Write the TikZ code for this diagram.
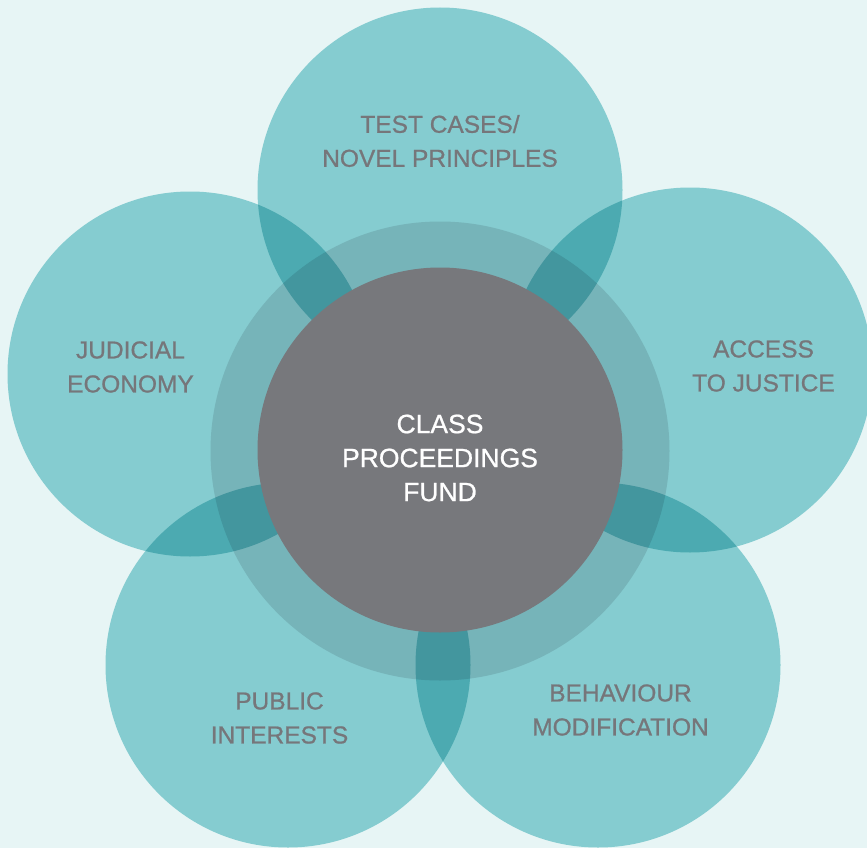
\documentclass[tikz,border=0pt]{standalone}
\usepackage{fontspec}
\setmainfont{Liberation Sans}
\newfontfamily\labelfont[FakeBold=0.8]{Liberation Sans}
\definecolor{bgcol}{RGB}{231,245,245}
\definecolor{petalcol}{RGB}{147,213,217}
\definecolor{ringcol}{RGB}{228,225,228}
\definecolor{corecol}{RGB}{119,120,124}
\definecolor{labelcol}{RGB}{118,118,122}
\begin{document}
\begin{tikzpicture}[x=1pt,y=-1pt,
  petal/.style={circle,inner sep=0pt,minimum size=365pt,fill=petalcol,draw=none,blend mode=multiply},
  halo/.style={circle,inner sep=0pt,minimum size=459pt,fill=ringcol,draw=none,blend mode=multiply},
  core/.style={circle,inner sep=0pt,minimum size=365pt,fill=corecol,draw=none},
  petallabel/.style={align=center,text=labelcol,font=\labelfont\fontsize{24.5}{34}\selectfont},
  corelabel/.style={align=center,text=white,font=\labelfont\fontsize{26.5}{34}\selectfont}]
  \useasboundingbox (0,0) rectangle (867,848);
  \clip (0,0) rectangle (867,848);
  \fill[bgcol] (0,0) rectangle (867,848);
  % five overlapping petals around the centre
  \node[petal] (ptop)    at (440,190) {};
  \node[petal] (pleft)   at (190,374) {};
  \node[petal] (pright)  at (690,370) {};
  \node[petal] (pbleft)  at (288,665) {};
  \node[petal] (pbright) at (598,665) {};
  % translucent ring and solid core
  \node[halo] (ring) at (440,451) {};
  \node[core] (core) at (440,450) {};
  % labels
  \node[petallabel] (ltop)    at (440,141) {TEST CASES/\\NOVEL PRINCIPLES};
  \node[petallabel] (lleft)   at (130.5,367) {JUDICIAL\\ECONOMY};
  \node[petallabel] (lright)  at (763.5,366) {ACCESS\\TO JUSTICE};
  \node[petallabel] (lbleft)  at (279.5,718) {PUBLIC\\INTERESTS};
  \node[petallabel] (lbright) at (620.5,710) {BEHAVIOUR\\MODIFICATION};
  \node[corelabel] (lcore) at (440,458) {CLASS\\PROCEEDINGS\\FUND};
\end{tikzpicture}
\end{document}
